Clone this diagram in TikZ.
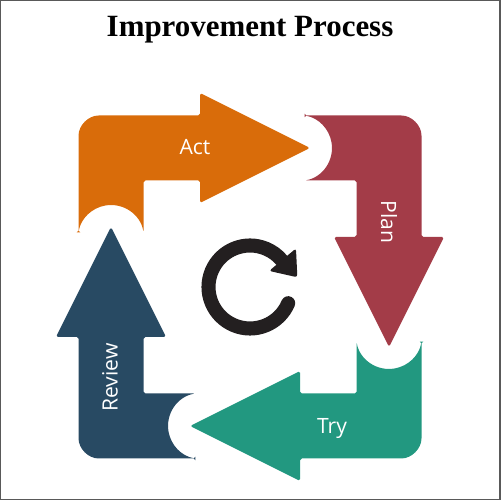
\documentclass[tikz,border=0pt]{standalone}
\usepackage{fontspec}
\setmainfont{Liberation Serif}
\newfontfamily\labelfont{Open Sans}
\usetikzlibrary{calc}

\definecolor{actorange}{RGB}{217,108,10}
\definecolor{planred}{RGB}{163,60,72}
\definecolor{trygreen}{RGB}{34,152,128}
\definecolor{reviewblue}{RGB}{40,74,99}
\definecolor{icongray}{RGB}{35,31,32}

\tikzset{
  steplabel/.style={text=white, font=\labelfont\fontsize{12}{14}\selectfont, inner sep=0pt},
}

\begin{document}
\begin{tikzpicture}[scale=0.02]
  \useasboundingbox (0,0) rectangle (500,500);
  \draw[black!65, line width=0.8pt] (0,0) rectangle (500,500);
  \node[font=\bfseries\fontsize{17.6}{20}\selectfont, anchor=base] (title) at (250,463) {Improvement Process};

  \foreach \ang/\col in {0/actorange, -90/planred, 180/trygreen, 90/reviewblue} {
    \fill[\col, shift={(250,213)}, rotate=\ang, rounded corners=1pt]
      (-171.5,54.7) -- (-171.5,149.5) arc[start angle=180, end angle=90, radius=22]
      -- (-50,171.5) -- (-50,194) -- (60,139) -- (-50,84) -- (-50,106.5)
      -- (-106.5,106.5) -- (-106.5,54.7) arc[start angle=10, end angle=170, radius=33] -- cycle;
  }

  \node[steplabel] (act) at (195,353) {Act};
  \node[steplabel, rotate=-90] (plan) at (389,278) {Plan};
  \node[steplabel] (try) at (332,71) {Try};
  \node[steplabel, rotate=90] (review) at (110,122.5) {Review};

  \begin{scope}[shift={(250,213)}]
    \draw[icongray, line width=8pt, line cap=round] (-23:41.5) arc[start angle=-23, end angle=-320, radius=41.5];
    \fill[icongray, rounded corners=1.5pt] (40:25) -- (40:60) -- ($(40:42.5)+(-50:23)$) -- cycle;
  \end{scope}
\end{tikzpicture}
\end{document}
